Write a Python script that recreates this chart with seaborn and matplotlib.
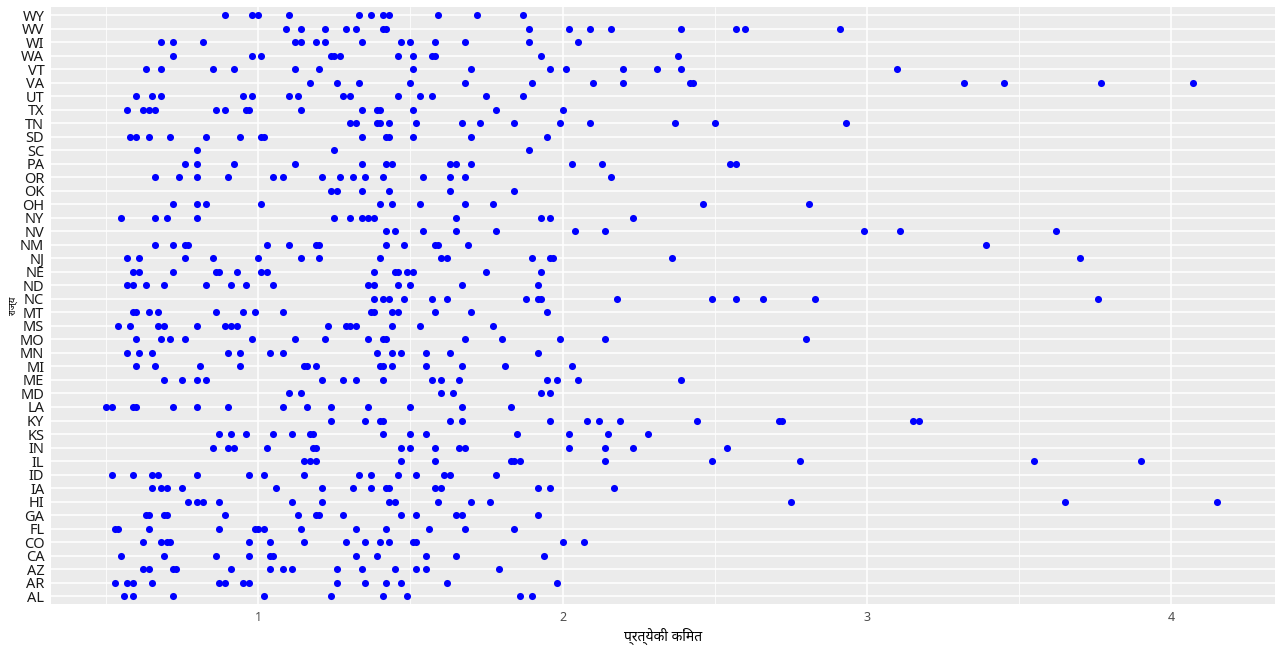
import matplotlib
matplotlib.use("Agg")
import matplotlib.pyplot as plt
import seaborn as sns
import pandas as pd

# states from bottom (AL) to top (WY)
states = ["AL", "AR", "AZ", "CA", "CO", "FL", "GA", "HI", "IA", "ID", "IL", "IN",
          "KS", "KY", "LA", "MD", "ME", "MI", "MN", "MO", "MS", "MT", "NC", "ND",
          "NE", "NJ", "NM", "NV", "NY", "OH", "OK", "OR", "PA", "SC", "SD", "TN",
          "TX", "UT", "VA", "VT", "WA", "WI", "WV", "WY"]

# price per lb
al = [0.56, 0.59, 0.72, 1.02, 1.24, 1.41, 1.49, 1.86, 1.90]
ar = [0.53, 0.57, 0.59, 0.65, 0.87, 0.89, 0.95, 0.97, 1.26, 1.35, 1.42, 1.47, 1.62, 1.98]
az = [0.62, 0.64, 0.72, 0.73, 0.91, 1.04, 1.08, 1.11, 1.26, 1.34, 1.45, 1.52, 1.55, 1.79]
ca = [0.55, 0.69, 0.86, 0.97, 1.04, 1.05, 1.32, 1.39, 1.55, 1.65, 1.94]
co = [0.62, 0.68, 0.70, 0.71, 0.97, 1.04, 1.15, 1.29, 1.35, 1.40, 1.43, 1.51, 1.52, 2.00, 2.07]
fl = [0.53, 0.54, 0.64, 0.87, 0.99, 1.00, 1.02, 1.14, 1.32, 1.42, 1.56, 1.68, 1.84]
ga = [0.63, 0.64, 0.69, 0.70, 0.89, 1.13, 1.19, 1.20, 1.28, 1.47, 1.52, 1.65, 1.67, 1.92]
hi = [0.77, 0.80, 0.82, 0.87, 1.11, 1.21, 1.43, 1.45, 1.59, 1.70, 1.76, 2.75, 3.65, 4.15]
ia = [0.65, 0.68, 0.70, 0.75, 1.06, 1.21, 1.31, 1.37, 1.42, 1.43, 1.58, 1.60, 1.92, 1.96, 2.17]
id_ = [0.52, 0.59, 0.65, 0.67, 0.80, 0.97, 1.02, 1.15, 1.33, 1.37, 1.46, 1.52, 1.61, 1.63, 1.78]
il = [1.15, 1.17, 1.19, 1.47, 1.58, 1.83, 1.84, 1.86, 2.14, 2.49, 2.78, 3.55, 3.90]
in_ = [0.85, 0.90, 0.92, 1.03, 1.18, 1.19, 1.47, 1.50, 1.58, 1.66, 1.68, 2.02, 2.14, 2.23, 2.54]
ks = [0.87, 0.91, 0.96, 1.05, 1.11, 1.17, 1.18, 1.41, 1.50, 1.55, 1.85, 2.02, 2.15, 2.28]
ky = [1.24, 1.35, 1.40, 1.41, 1.63, 1.67, 1.96, 2.08, 2.12, 2.19, 2.44, 2.71, 2.72, 3.15, 3.17]
la = [0.50, 0.52, 0.59, 0.60, 0.72, 0.80, 0.90, 1.08, 1.16, 1.24, 1.36, 1.50, 1.67, 1.83]
md = [1.10, 1.14, 1.60, 1.64, 1.93, 1.96]
me = [0.69, 0.75, 0.80, 0.83, 1.21, 1.28, 1.32, 1.41, 1.57, 1.60, 1.66, 1.95, 1.98, 2.05, 2.39]
mi = [0.60, 0.66, 0.81, 0.94, 1.15, 1.16, 1.19, 1.40, 1.41, 1.44, 1.55, 1.67, 1.81, 2.03]
mn = [0.57, 0.61, 0.65, 0.90, 0.94, 1.04, 1.08, 1.39, 1.44, 1.47, 1.55, 1.63, 1.92]
mo = [0.60, 0.68, 0.71, 0.76, 0.98, 1.12, 1.22, 1.36, 1.41, 1.42, 1.68, 1.80, 1.99, 2.14, 2.80]
ms = [0.54, 0.58, 0.67, 0.69, 0.80, 0.89, 0.91, 0.93, 1.23, 1.29, 1.30, 1.32, 1.44, 1.53, 1.77]
mt = [0.59, 0.60, 0.64, 0.67, 0.86, 0.95, 0.99, 1.08, 1.37, 1.38, 1.44, 1.46, 1.58, 1.70, 1.95]
nc = [1.38, 1.41, 1.43, 1.48, 1.57, 1.62, 1.88, 1.92, 1.93, 2.18, 2.49, 2.57, 2.66, 2.83, 3.76]
nd = [0.57, 0.59, 0.63, 0.69, 0.83, 0.91, 0.96, 1.05, 1.36, 1.38, 1.46, 1.50, 1.67, 1.92]
ne = [0.59, 0.61, 0.72, 0.86, 0.87, 0.93, 1.01, 1.03, 1.38, 1.45, 1.46, 1.49, 1.51, 1.75, 1.93]
nj = [0.57, 0.61, 0.76, 0.85, 1.00, 1.14, 1.20, 1.40, 1.60, 1.62, 1.90, 1.96, 1.97, 2.36, 3.70]
nm = [0.66, 0.72, 0.76, 0.77, 1.03, 1.10, 1.19, 1.20, 1.42, 1.48, 1.58, 1.59, 1.69, 3.39]
nv = [1.42, 1.45, 1.54, 1.65, 1.78, 2.04, 2.14, 2.99, 3.11, 3.62]
ny = [0.55, 0.66, 0.70, 0.80, 1.25, 1.30, 1.34, 1.36, 1.38, 1.65, 1.93, 1.96, 2.23]
oh = [0.72, 0.80, 0.83, 1.01, 1.40, 1.44, 1.53, 1.68, 1.77, 2.46, 2.81]
ok = [1.24, 1.26, 1.34, 1.43, 1.63, 1.84]
or_ = [0.66, 0.74, 0.80, 0.90, 1.05, 1.08, 1.21, 1.27, 1.31, 1.35, 1.41, 1.54, 1.63, 1.68, 2.16]
pa = [0.76, 0.80, 0.92, 1.12, 1.34, 1.42, 1.44, 1.63, 1.65, 1.70, 2.03, 2.13, 2.55, 2.57]
sc = [0.80, 1.25, 1.89]
sd = [0.58, 0.60, 0.64, 0.71, 0.83, 0.94, 1.01, 1.02, 1.34, 1.42, 1.43, 1.51, 1.70, 1.95]
tn = [1.30, 1.32, 1.39, 1.40, 1.43, 1.52, 1.67, 1.73, 1.84, 1.99, 2.09, 2.37, 2.50, 2.93]
tx = [0.57, 0.62, 0.64, 0.66, 0.86, 0.89, 0.96, 0.97, 1.14, 1.34, 1.39, 1.40, 1.51, 1.78, 2.00]
ut = [0.60, 0.65, 0.68, 0.95, 0.98, 1.10, 1.13, 1.28, 1.30, 1.46, 1.53, 1.57, 1.75, 1.87]
va = [1.17, 1.26, 1.33, 1.50, 1.68, 1.90, 2.10, 2.20, 2.42, 2.43, 3.32, 3.45, 3.77, 4.07]
vt = [0.63, 0.68, 0.85, 0.92, 1.12, 1.20, 1.51, 1.70, 1.96, 2.01, 2.20, 2.31, 2.39, 3.10]
wa = [0.72, 0.98, 1.01, 1.24, 1.25, 1.27, 1.46, 1.51, 1.57, 1.58, 1.93, 2.38]
wi = [0.68, 0.72, 0.82, 1.12, 1.14, 1.19, 1.22, 1.34, 1.47, 1.50, 1.58, 1.68, 1.89, 2.05]
wv = [1.09, 1.14, 1.22, 1.29, 1.32, 1.41, 1.42, 1.89, 2.02, 2.09, 2.16, 2.39, 2.57, 2.60, 2.91]
wy = [0.89, 0.98, 1.00, 1.10, 1.33, 1.37, 1.41, 1.43, 1.59, 1.72, 1.87]

prices = [al, ar, az, ca, co, fl, ga, hi, ia, id_, il, in_, ks, ky, la, md, me,
          mi, mn, mo, ms, mt, nc, nd, ne, nj, nm, nv, ny, oh, ok, or_, pa, sc,
          sd, tn, tx, ut, va, vt, wa, wi, wv, wy]

rows = []
for st, vals in zip(states, prices):
    for v in vals:
        rows.append((st, v))
honey = pd.DataFrame(rows, columns=["state", "priceperlb"])

sns.set_theme(style="darkgrid", rc={
    "axes.facecolor": "#EBEBEB",
    "grid.color": "white",
    "axes.edgecolor": "#EBEBEB",
})
plt.rcParams["font.family"] = ["Noto Sans", "DejaVu Sans"]

fig = plt.figure(figsize=(12.8, 6.49), dpi=100)
ax = fig.add_axes([0.040, 0.069, 0.956, 0.920])

sns.scatterplot(data=honey, x="priceperlb", y="state", color="#0000FF",
                s=26, linewidth=0, ax=ax, zorder=3)

ax.set_xlim(0.32, 4.34)
ax.set_ylim(-0.6, len(states) - 0.4)
ax.set_xticks([1, 2, 3, 4])
ax.set_xticks([0.5, 1.5, 2.5, 3.5], minor=True)
ax.grid(which="major", color="white", linewidth=1.1)
ax.grid(which="minor", axis="x", color="white", linewidth=0.55)
ax.tick_params(which="minor", length=0)
ax.tick_params(axis="both", which="major", length=3, width=0.8, color="#333333",
               pad=2)
ax.tick_params(axis="y", labelsize=10.5, labelcolor="#1A1A1A")
ax.tick_params(axis="x", labelsize=9, labelcolor="#4D4D4D")
for sp in ax.spines.values():
    sp.set_visible(False)

ax.set_xlabel("प्रत्येकी किंमत", fontsize=10, color="black", labelpad=3)
ax.set_ylabel("राज्य", fontsize=7, color="black", labelpad=1)

fig.savefig("out.png", dpi=100)
